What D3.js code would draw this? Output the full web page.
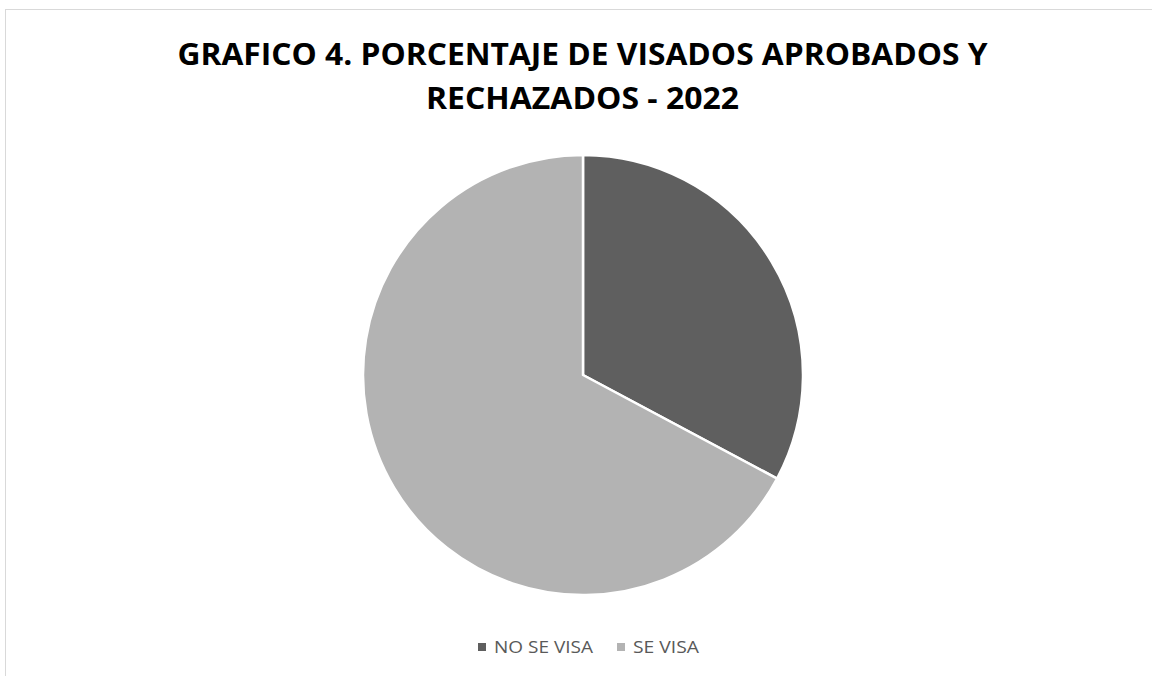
<!DOCTYPE html>
<html>
<head>
<meta charset="utf-8">
<script src="https://cdn.jsdelivr.net/npm/d3@7"></script>
<style>
  html, body { margin: 0; padding: 0; background: #ffffff; }
  svg { display: block; }
</style>
</head>
<body>
<svg id="chart" width="1152" height="676"></svg>
<script>
const titleLines = ["GRAFICO 4. PORCENTAJE DE VISADOS APROBADOS Y", "RECHAZADOS - 2022"];
const categories = ["NO SE VISA", "SE VISA"];
const values = [32.8, 67.2];
const colors = ["#5f5f5f", "#b3b3b3"];

const svg = d3.select("#chart");
const W = 1152, H = 676;

// chart frame (only left and top edges visible)
svg.append("rect")
  .attr("x", 5.5).attr("y", 9.5)
  .attr("width", W + 10).attr("height", H + 10)
  .attr("fill", "#ffffff")
  .attr("stroke", "#d9d9d9")
  .attr("stroke-width", 1);

// title
const titleG = svg.append("g")
  .attr("font-family", "'Open Sans', 'Liberation Sans', sans-serif")
  .attr("font-weight", "bold")
  .attr("font-size", 31)
  .attr("fill", "#000000")
  .attr("text-anchor", "middle");
const titleY = [65, 109];
const titleW = [810, 313];
titleLines.forEach((t, i) => {
  titleG.append("text")
    .attr("x", 582.5)
    .attr("y", titleY[i])
    .attr("textLength", titleW[i])
    .attr("lengthAdjust", "spacingAndGlyphs")
    .text(t);
});

// pie
const cx = 583, cy = 375, R = 220;
const pie = d3.pie().sort(null).value(d => d.v);
const arc = d3.arc().innerRadius(0).outerRadius(R);
const data = categories.map((c, i) => ({ c, v: values[i], col: colors[i] }));
const color = d3.scaleOrdinal().domain(categories).range(colors);

svg.append("g")
  .attr("transform", `translate(${cx},${cy})`)
  .selectAll("path")
  .data(pie(data))
  .join("path")
  .attr("d", arc)
  .attr("fill", d => color(d.data.c))
  .attr("stroke", "#ffffff")
  .attr("stroke-width", 2.5)
  .attr("stroke-linejoin", "round");

// legend
const legend = svg.append("g")
  .attr("font-family", "'Open Sans', 'Liberation Sans', sans-serif")
  .attr("font-size", 17)
  .attr("fill", "#595959");
const legX = [478, 617];
const legTextW = [99, 66];
categories.forEach((c, i) => {
  legend.append("rect")
    .attr("x", legX[i]).attr("y", 643)
    .attr("width", 8).attr("height", 8)
    .attr("fill", color(c));
  legend.append("text")
    .attr("x", legX[i] + 16)
    .attr("y", 653)
    .attr("textLength", legTextW[i])
    .attr("lengthAdjust", "spacingAndGlyphs")
    .text(c);
});
</script>
</body>
</html>
